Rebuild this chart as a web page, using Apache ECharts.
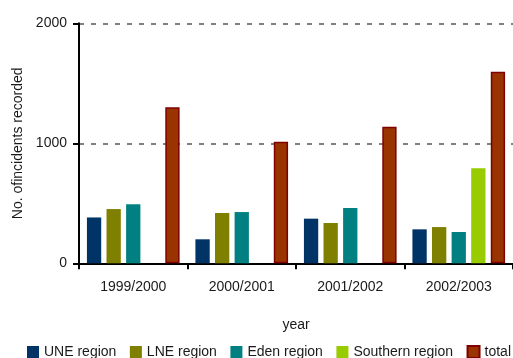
<!DOCTYPE html>
<html>
<head>
<meta charset="utf-8">
<script src="https://cdn.jsdelivr.net/npm/echarts@6/dist/echarts.min.js"></script>
<style>
  html, body { margin: 0; padding: 0; background: #fff; }
  #chart { width: 513px; height: 358px; }
</style>
</head>
<body>
<div id="chart"></div>
<script>
// Incidents recorded per year, by region
const years = ['1999/2000', '2000/2001', '2001/2002', '2002/2003'];
const uneRegion = [382, 200, 372, 283];
const lneRegion = [452, 419, 336, 302];
const edenRegion = [492, 427, 461, 261];
const southernRegion = [null, null, null, 792];
const totalIncidents = [1300, 1013, 1138, 1597];
const yTicks = [0, 1000, 2000];

const font = 'Liberation Sans, Arial, sans-serif';
const textColor = '#1a1a1a';

function barSeries(name, data, color, border) {
  return {
    name: name,
    type: 'bar',
    data: data,
    barWidth: 14.3,
    barGap: '37%',
    itemStyle: border
      ? { color: color, borderColor: border, borderWidth: 1.5 }
      : { color: color },
    emphasis: { disabled: true }
  };
}

const chart = echarts.init(document.getElementById('chart'), null, { renderer: 'canvas' });
chart.setOption({
  animation: false,
  backgroundColor: '#ffffff',
  textStyle: { fontFamily: font, color: textColor },
  grid: { left: 79, right: 0, top: 23.3, bottom: 94.7, containLabel: false },
  legend: {
    left: 27,
    top: 345,
    width: 560,
    padding: 0,
    itemWidth: 12,
    itemHeight: 12,
    itemGap: 13.5,
    icon: 'rect',
    textStyle: { fontFamily: font, fontSize: 14, color: textColor },
    data: ['UNE region', 'LNE region', 'Eden region', 'Southern region', 'total']
  },
  xAxis: {
    type: 'category',
    data: years,
    name: 'year',
    nameLocation: 'middle',
    nameGap: 55,
    nameTextStyle: { fontFamily: font, fontSize: 14, color: textColor },
    axisLine: { lineStyle: { color: '#000', width: 2 } },
    axisTick: { show: true, length: 6, lineStyle: { color: '#000', width: 2 } },
    axisLabel: { margin: 17, fontFamily: font, fontSize: 14, color: textColor },
    splitLine: { show: false }
  },
  yAxis: {
    type: 'value',
    min: yTicks[0],
    max: yTicks[yTicks.length - 1],
    interval: yTicks[1] - yTicks[0],
    name: 'No. ofincidents recorded',
    nameLocation: 'middle',
    nameGap: 47,
    nameTextStyle: { fontFamily: font, fontSize: 14, color: textColor },
    axisLine: { show: true, lineStyle: { color: '#000', width: 2 } },
    axisTick: { show: true, length: 6, lineStyle: { color: '#000', width: 2 } },
    axisLabel: {
      margin: 12,
      fontFamily: font,
      fontSize: 14,
      color: textColor,
      formatter: function (v) { return String(v); }
    },
    splitLine: {
      show: true,
      lineStyle: { color: '#808080', width: 2, type: [5, 7] }
    }
  },
  series: [
    barSeries('UNE region', uneRegion, '#003366'),
    barSeries('LNE region', lneRegion, '#808000'),
    barSeries('Eden region', edenRegion, '#008080'),
    barSeries('Southern region', southernRegion, '#99cc00'),
    barSeries('total', totalIncidents, '#993300', '#800000')
  ]
});
</script>
</body>
</html>
